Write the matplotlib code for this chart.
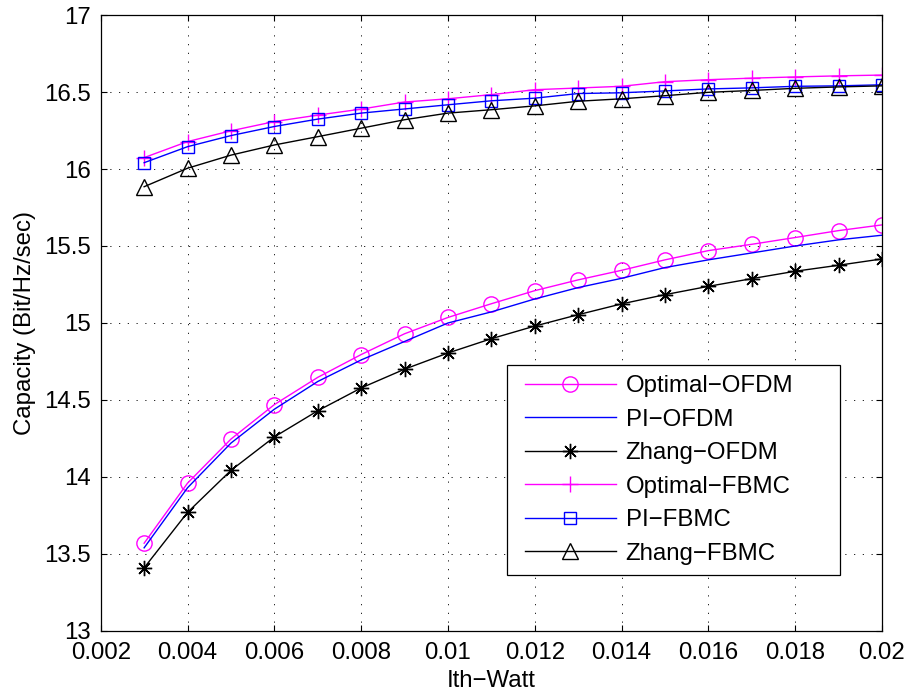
import matplotlib
matplotlib.use("Agg")
import matplotlib.pyplot as plt
from matplotlib.ticker import FixedLocator
from matplotlib.patches import Rectangle

plt.rcParams['font.family'] = ['Liberation Sans', 'DejaVu Sans']
plt.rcParams['axes.unicode_minus'] = True

x = [0.003, 0.004, 0.005, 0.006, 0.007, 0.008, 0.009, 0.010, 0.011,
     0.012, 0.013, 0.014, 0.015, 0.016, 0.017, 0.018, 0.019, 0.020]

opt_ofdm = [13.57, 13.96, 14.246, 14.47, 14.647, 14.795, 14.93, 15.036, 15.125,
            15.21, 15.28, 15.342, 15.41, 15.47, 15.511, 15.555, 15.60, 15.637]
pi_ofdm = [13.54, 13.93, 14.22, 14.44, 14.62, 14.76, 14.88, 15.00, 15.072,
           15.156, 15.23, 15.29, 15.36, 15.41, 15.455, 15.50, 15.54, 15.57]
zhang_ofdm = [13.41, 13.77, 14.043, 14.26, 14.43, 14.578, 14.70, 14.805, 14.898,
              14.98, 15.054, 15.124, 15.184, 15.238, 15.288, 15.336, 15.375, 15.416]
opt_fbmc = [16.074, 16.178, 16.248, 16.308, 16.35, 16.389, 16.435, 16.456, 16.483,
            16.515, 16.526, 16.537, 16.567, 16.58, 16.59, 16.598, 16.605, 16.61]
pi_fbmc = [16.041, 16.145, 16.217, 16.276, 16.324, 16.363, 16.39, 16.417, 16.443,
           16.46, 16.49, 16.495, 16.507, 16.52, 16.527, 16.537, 16.54, 16.547]
zhang_fbmc = [15.885, 16.005, 16.09, 16.156, 16.21, 16.265, 16.32, 16.363, 16.385,
              16.41, 16.44, 16.456, 16.476, 16.498, 16.51, 16.524, 16.533, 16.54]

labels = ['Optimal\u2212OFDM', 'PI\u2212OFDM', 'Zhang\u2212OFDM',
          'Optimal\u2212FBMC', 'PI\u2212FBMC', 'Zhang\u2212FBMC']
xticks = [0.002, 0.004, 0.006, 0.008, 0.01, 0.012, 0.014, 0.016, 0.018, 0.02]
xticklabels = ['0.002', '0.004', '0.006', '0.008', '0.01', '0.012', '0.014', '0.016', '0.018', '0.02']
yticks = [13, 13.5, 14, 14.5, 15, 15.5, 16, 16.5, 17]
yticklabels = ['13', '13.5', '14', '14.5', '15', '15.5', '16', '16.5', '17']

FS = 17.3
W, H = 910, 692
fig = plt.figure(figsize=(W / 100, H / 100), dpi=100)
ax = fig.add_axes([0.1107, 0.0882, 0.9692 - 0.1107, 0.9783 - 0.0882])

mag = '#ff00ff'
blu = '#0000ff'
blk = '#000000'
lw = 1.0

ax.plot(x, opt_ofdm, color=mag, lw=lw, marker='o', ms=11, mfc='none', mec=mag, mew=1.0, label=labels[0])
ax.plot(x, pi_ofdm, color=blu, lw=lw, label=labels[1])
ax.plot(x, zhang_ofdm, color=blk, lw=lw, marker=(8, 2, 0), ms=11, mec=blk, mew=1.0, label=labels[2])
ax.plot(x, opt_fbmc, color=mag, lw=lw, marker='+', ms=11, mec=mag, mew=1.0, label=labels[3])
ax.plot(x, pi_fbmc, color=blu, lw=lw, marker='s', ms=8.5, mfc='none', mec=blu, mew=1.0, label=labels[4])
ax.plot(x, zhang_fbmc, color=blk, lw=lw, marker='^', ms=12, mfc='none', mec=blk, mew=1.0, label=labels[5])

ax.set_xlim(0.002, 0.02)
ax.set_ylim(13, 17)
ax.xaxis.set_major_locator(FixedLocator(xticks))
ax.set_xticklabels(xticklabels)
ax.yaxis.set_major_locator(FixedLocator(yticks))
ax.set_yticklabels(yticklabels)

ax.grid(True, color='black', linestyle=(0, (1.5, 9)), linewidth=0.6)
ax.tick_params(direction='in', length=4.5, width=0.8, top=True, right=True,
               labelsize=FS)
ax.tick_params(axis='x', pad=8)
ax.tick_params(axis='y', pad=7)
for s in ax.spines.values():
    s.set_linewidth(0.9)

ax.set_xlabel('Ith\u2212Watt', fontsize=FS, labelpad=4)
ax.set_ylabel('Capacity (Bit/Hz/sec)', fontsize=FS, labelpad=6)

# legend frame (MATLAB-style, wider than its content)
frame = Rectangle((507 / W, 1 - 575 / H), (840 - 507) / W, (575 - 365) / H,
                  transform=fig.transFigure, facecolor='white', edgecolor='black',
                  linewidth=0.9, zorder=5)
fig.patches.append(frame)

leg = ax.legend(loc='upper left', bbox_to_anchor=(525 / W, 1 - 375 / H),
                bbox_transform=fig.transFigure, borderaxespad=0, borderpad=0,
                fontsize=FS, handlelength=3.78, handletextpad=0.41,
                labelspacing=0.48, frameon=False)
leg.set_zorder(6)
fig.legends.append(leg)
ax.get_legend().remove() if ax.get_legend() is not leg else None

fig.savefig('out.png', dpi=100)
